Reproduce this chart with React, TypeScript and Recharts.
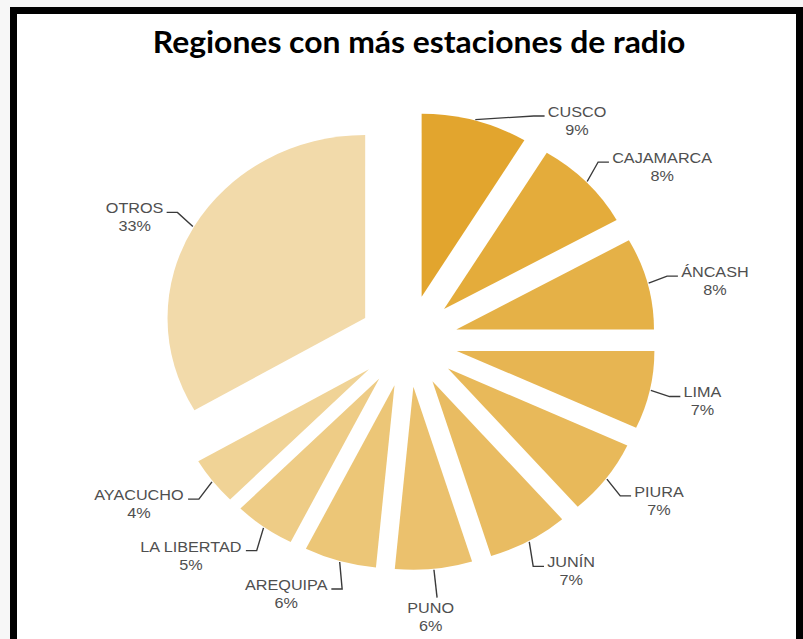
import React from "react";
import { PieChart, Pie, Sector } from "recharts";

const regions = [
  "CUSCO",
  "CAJAMARCA",
  "ÁNCASH",
  "LIMA",
  "PIURA",
  "JUNÍN",
  "PUNO",
  "AREQUIPA",
  "LA LIBERTAD",
  "AYACUCHO",
  "OTROS",
];
const shares = [8.7, 8.2, 8.1, 6.9, 6.7, 6.6, 6.3, 5.9, 5.0, 4.2, 33.4];
const colors = [
  "#E2A52E",
  "#E4AC3B",
  "#E5B147",
  "#E7B552",
  "#E8B95A",
  "#E9BC62",
  "#EBC16D",
  "#ECC677",
  "#EECC86",
  "#F0D396",
  "#F2DAAA",
];

const data = regions.map((name, i) => ({ name, value: shares[i], fill: colors[i] }));

const SCALE_X = 1.08;
const EXPLODE = 46;
const LABEL_R = 258;
const LABEL_TOP = 225;
const FONT = "'Liberation Sans', Arial, sans-serif";

// rough Arial advance widths, em units
const charW: Record<string, number> = {
  A: 0.667, Á: 0.667, B: 0.667, C: 0.722, D: 0.722, E: 0.667, H: 0.722, I: 0.278, Í: 0.278,
  J: 0.5, L: 0.556, M: 0.833, N: 0.722, O: 0.778, P: 0.667, Q: 0.778, R: 0.722, S: 0.667,
  T: 0.611, U: 0.722, Y: 0.667, " ": 0.278,
};
const textWidth = (s: string, size: number) =>
  s.split("").reduce((acc, ch) => acc + (charW[ch] ?? 0.667), 0) * size;

const explodedSector = (props: any) => {
  const rad = Math.PI / 180;
  const dx = Math.cos(-props.midAngle * rad) * EXPLODE;
  const dy = Math.sin(-props.midAngle * rad) * EXPLODE;
  return (
    <Sector
      cx={props.cx + dx}
      cy={props.cy + dy}
      innerRadius={props.innerRadius}
      outerRadius={props.outerRadius}
      startAngle={props.startAngle}
      endAngle={props.endAngle}
      fill={props.fill}
      stroke="none"
    />
  );
};

const renderLabel = (p: any) => {
  const rad = Math.PI / 180;
  const cos = Math.cos(-p.midAngle * rad);
  const sin = Math.sin(-p.midAngle * rad);
  const r0 = p.outerRadius + EXPLODE + 1;
  const sx = p.cx + r0 * cos;
  const sy = p.cy + r0 * sin;
  let lx = p.cx + LABEL_R * cos;
  let ly = p.cy + LABEL_R * sin;
  if (ly < p.cy - LABEL_TOP) {
    ly = p.cy - LABEL_TOP;
    lx = p.cx + Math.sign(cos) * Math.sqrt(LABEL_R * LABEL_R - LABEL_TOP * LABEL_TOP);
  }
  const pct = `${Math.round(p.percent * 100)}%`;
  const size = 15;
  const w = textWidth(p.name, size);
  const bottom = Math.abs(cos) < 0.15 && sin > 0;

  let points: string;
  let tx: number;
  let ty: number;
  if (bottom) {
    points = `${sx},${sy} ${lx},${ly}`;
    tx = lx - 6;
    ty = ly + 15;
  } else {
    const side = cos >= 0 ? 1 : -1;
    points = `${sx},${sy} ${lx - side * 10},${ly} ${lx},${ly}`;
    tx = lx + side * (w / 2 + 3);
    ty = ly + 1;
  }
  return (
    <g key={`lbl-${p.index}`}>
      <polyline points={points} fill="none" stroke="#3a3a3a" strokeWidth={1.3} />
      <text x={tx} y={ty} textAnchor="middle" fill="#4f4f4f" fontSize={size} fontFamily={FONT}>
        <tspan x={tx} dy={0}>{p.name}</tspan>
        <tspan x={tx} dy={18}>{pct}</tspan>
      </text>
    </g>
  );
};

export default function App() {
  return (
    <div
      style={{
        position: "fixed",
        left: 0,
        top: 0,
        width: 803,
        height: 639,
        background: "#f7f7f7",
        overflow: "hidden",
      }}
    >
      <div
        style={{
          position: "absolute",
          left: 10,
          top: 7,
          width: 793,
          height: 700,
          border: "7px solid #000",
          boxSizing: "border-box",
          background: "#fff",
        }}
      />
      <div
        style={{
          position: "absolute",
          left: 0,
          top: 0,
          transform: `scaleX(${SCALE_X})`,
          transformOrigin: "0 0",
        }}
      >
        <svg width={744} height={70} style={{ position: "absolute", left: 0, top: 0 }}>
          <text
            x={388}
            y={53}
            textAnchor="middle"
            fontFamily="Lato, 'Open Sans', sans-serif"
            fontWeight={700}
            fontSize={29.5}
            fill="#000"
          >
            Regiones con más estaciones de radio
          </text>
        </svg>
        <PieChart width={744} height={639} style={{ position: "absolute", left: 0, top: 0 }}>
          <Pie
            data={data}
            dataKey="value"
            nameKey="name"
            cx={373}
            cy={336}
            innerRadius={0}
            outerRadius={183}
            startAngle={90}
            endAngle={-270}
            stroke="none"
            shape={explodedSector}
            label={renderLabel}
            labelLine={false}
            isAnimationActive={false}
          />
        </PieChart>
      </div>
    </div>
  );
}
